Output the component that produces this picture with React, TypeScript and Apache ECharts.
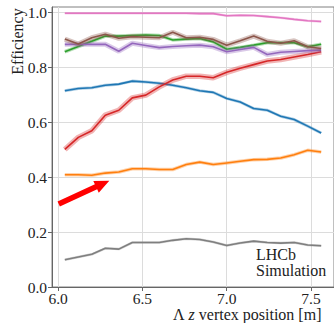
import React, { useEffect, useRef } from "react";
import * as echarts from "echarts";

const xValues = [6.04, 6.12, 6.2, 6.28, 6.36, 6.44, 6.52, 6.6, 6.68, 6.76, 6.84, 6.92, 7.0, 7.08, 7.16, 7.24, 7.32, 7.4, 7.48, 7.56];

const blueEff = [0.715, 0.723, 0.726, 0.735, 0.739, 0.75, 0.747, 0.742, 0.735, 0.726, 0.715, 0.709, 0.687, 0.674, 0.65, 0.644, 0.622, 0.61, 0.586, 0.561];
const orangeEff = [0.409, 0.409, 0.407, 0.415, 0.419, 0.431, 0.431, 0.428, 0.428, 0.446, 0.455, 0.446, 0.452, 0.458, 0.464, 0.465, 0.47, 0.482, 0.498, 0.492];
const greenEff = [0.857, 0.876, 0.895, 0.914, 0.914, 0.916, 0.918, 0.916, 0.9, 0.903, 0.905, 0.893, 0.866, 0.873, 0.881, 0.89, 0.89, 0.89, 0.875, 0.884];
const redEff = [0.501, 0.545, 0.569, 0.626, 0.644, 0.689, 0.699, 0.729, 0.754, 0.768, 0.768, 0.762, 0.782, 0.797, 0.81, 0.823, 0.829, 0.838, 0.847, 0.857];
const purpleEff = [0.884, 0.884, 0.884, 0.884, 0.859, 0.888, 0.88, 0.872, 0.876, 0.879, 0.881, 0.875, 0.857, 0.865, 0.873, 0.847, 0.855, 0.858, 0.861, 0.863];
const brownEff = [0.903, 0.885, 0.908, 0.921, 0.906, 0.912, 0.91, 0.908, 0.928, 0.908, 0.91, 0.902, 0.881, 0.897, 0.914, 0.895, 0.888, 0.897, 0.875, 0.869];
const pinkEff = [0.997, 0.997, 0.997, 0.997, 0.997, 0.997, 0.997, 0.997, 0.997, 0.997, 0.996, 0.996, 0.988, 0.99, 0.989, 0.985, 0.981, 0.975, 0.97, 0.967];
const grayEff = [0.099, 0.109, 0.119, 0.141, 0.138, 0.162, 0.162, 0.162, 0.17, 0.176, 0.173, 0.164, 0.151, 0.16, 0.167, 0.162, 0.16, 0.162, 0.153, 0.15];

const xTicks = [6.0, 6.5, 7.0, 7.5];
const yTicks = [0.0, 0.2, 0.4, 0.6, 0.8, 1.0];

const seriesDefs = [
  { name: "blue", data: blueEff, color: "#1f77b4", band: 3 },
  { name: "orange", data: orangeEff, color: "#ff7f0e", band: 3.5 },
  { name: "green", data: greenEff, color: "#2ca02c", band: 3.5 },
  { name: "red", data: redEff, color: "#d62728", band: 5.5 },
  { name: "purple", data: purpleEff, color: "#9467bd", band: 5 },
  { name: "brown", data: brownEff, color: "#8c564b", band: 5 },
  { name: "pink", data: pinkEff, color: "#e377c2", band: 2.5 },
  { name: "gray", data: grayEff, color: "#7f7f7f", band: 2.5 },
];

const FONT = "Liberation Serif";

export default function App() {
  const ref = useRef<HTMLDivElement>(null);
  useEffect(() => {
    if (!ref.current) return;
    const chart = echarts.init(ref.current, undefined, { renderer: "svg" });
    const series: any[] = [];
    seriesDefs.forEach((s) => {
      const pts = xValues.map((x, i) => [x, s.data[i]]);
      series.push({
        type: "line",
        name: s.name + "-band",
        data: pts,
        symbol: "none",
        silent: true,
        lineStyle: { color: s.color, width: s.band, opacity: 0.35 },
      });
      series.push({
        type: "line",
        name: s.name,
        data: pts,
        symbol: "none",
        silent: true,
        lineStyle: { color: s.color, width: 1.6 },
      });
    });

    // arrow geometry
    const T = [58.7, 204];
    const P = [109.3, 180.7];
    const dx = P[0] - T[0];
    const dy = P[1] - T[1];
    const L = Math.hypot(dx, dy);
    const u = [dx / L, dy / L];
    const n = [-u[1], u[0]];
    const headLen = 14.6;
    const B = [P[0] - headLen * u[0], P[1] - headLen * u[1]];
    const sw = 2.8;
    const hw = 6.5;
    const arrowPts = [
      [T[0] - n[0] * sw, T[1] - n[1] * sw],
      [B[0] - n[0] * sw, B[1] - n[1] * sw],
      [B[0] - n[0] * hw, B[1] - n[1] * hw],
      [P[0], P[1]],
      [B[0] + n[0] * hw, B[1] + n[1] * hw],
      [B[0] + n[0] * sw, B[1] + n[1] * sw],
      [T[0] + n[0] * sw, T[1] + n[1] * sw],
    ];

    chart.setOption({
      animation: false,
      backgroundColor: "#ffffff",
      grid: {
        left: 52,
        top: 7,
        width: 283,
        height: 280,
        show: true,
        borderColor: "#808080",
        borderWidth: 1,
        backgroundColor: "transparent",
      },
      xAxis: {
        type: "value",
        min: 5.964,
        max: 7.636,
        axisLine: { show: true, lineStyle: { color: "#666666", width: 1 } },
        axisTick: { show: true, length: 4, customValues: xTicks, lineStyle: { color: "#666666" } },
        axisLabel: {
          customValues: xTicks,
          formatter: (v: number) => v.toFixed(1),
          fontFamily: FONT,
          fontSize: 15.5,
          lineHeight: 12,
          color: "#222222",
          margin: 5,
        },
        splitLine: { show: true, lineStyle: { color: "#dcdcdc", width: 1 } },
      },
      yAxis: {
        type: "value",
        min: 0,
        max: 1.02,
        axisLine: { show: true, lineStyle: { color: "#666666", width: 1 } },
        axisTick: { show: true, length: 4, customValues: yTicks, lineStyle: { color: "#666666" } },
        axisLabel: {
          customValues: yTicks,
          formatter: (v: number) => v.toFixed(1),
          fontFamily: FONT,
          fontSize: 15.5,
          lineHeight: 12,
          color: "#222222",
          margin: 5,
        },
        splitLine: { show: true, lineStyle: { color: "#dcdcdc", width: 1 } },
      },
      series,
      graphic: [
        {
          type: "polygon",
          shape: { points: arrowPts },
          style: { fill: "#ff0000" },
          z: 100,
        },
        {
          type: "text",
          x: 256,
          y: 254,
          style: {
            text: "LHCb",
            fontFamily: FONT,
            fontSize: 16,
            fill: "#222222",
            textAlign: "left",
            textVerticalAlign: "middle",
          },
          z: 100,
        },
        {
          type: "text",
          x: 256,
          y: 270.5,
          style: {
            text: "Simulation",
            fontFamily: FONT,
            fontSize: 16,
            fill: "#222222",
            textAlign: "left",
            textVerticalAlign: "middle",
          },
          z: 100,
        },
        {
          type: "text",
          x: 173,
          y: 314.5,
          style: {
            text: "{a|Λ} {i|z} {a|vertex position [m]}",
            fontFamily: FONT,
            fontSize: 16,
            lineHeight: 13,
            fill: "#222222",
            textAlign: "left",
            textVerticalAlign: "middle",
            rich: {
              a: { fontFamily: FONT, fontSize: 16, lineHeight: 13, fill: "#222222" },
              i: { fontFamily: FONT, fontSize: 16, lineHeight: 13, fontStyle: "italic", fill: "#222222" },
            },
          },
          z: 100,
        },
        {
          type: "text",
          x: 17.4,
          y: 41.5,
          rotation: Math.PI / 2,
          style: { text: "Efficiency", fontFamily: FONT, fontSize: 16, fill: "#222222", textAlign: "center", textVerticalAlign: "middle" },
          z: 100,
        },
      ],
    });
    return () => chart.dispose();
  }, []);
  return <div ref={ref} style={{ position: "fixed", left: 0, top: 0, width: 334, height: 323 }} />;
}
